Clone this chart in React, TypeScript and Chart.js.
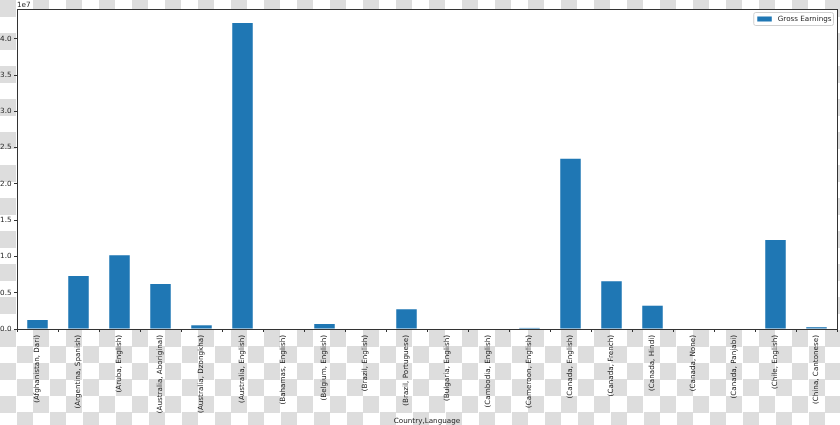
import React, { useEffect, useRef } from "react";
import { Chart, registerables } from "chart.js";

Chart.register(...registerables);

const categories = [
  "(Afghanistan, Dari)",
  "(Argentina, Spanish)",
  "(Aruba, English)",
  "(Australia, Aboriginal)",
  "(Australia, Dzongkha)",
  "(Australia, English)",
  "(Bahamas, English)",
  "(Belgium, English)",
  "(Brazil, English)",
  "(Brazil, Portuguese)",
  "(Bulgaria, English)",
  "(Cambodia, English)",
  "(Cameroon, English)",
  "(Canada, English)",
  "(Canada, French)",
  "(Canada, Hindi)",
  "(Canada, None)",
  "(Canada, Panjabi)",
  "(Chile, English)",
  "(China, Cantonese)",
];

const grossEarnings = [
  1240000, 7310000, 10170000, 6200000, 510000, 42170000, 0, 690000, 0,
  2720000, 0, 0, 150000, 23450000, 6580000, 3210000, 0, 0, 12280000, 250000,
];

const yTicks = [
  0, 5000000, 10000000, 15000000, 20000000, 25000000, 30000000, 35000000,
  40000000,
];

const seriesLabel = "Gross Earnings";
const xTitle = "Country,Language";
const yMax = 44100000;
const offsetText = "1e7";

const BLUE = "#1f77b4";
const INK = "#222";
const FONT = "'DejaVu Sans', sans-serif";
const FS = 7.2;

// white axes face, spines, legend box, offset text and x title
const decorPlugin = {
  id: "decor",
  beforeDraw(chart: any) {
    const { ctx, chartArea: a } = chart;
    ctx.save();
    ctx.fillStyle = "#fff";
    ctx.fillRect(a.left, a.top, a.right - a.left, a.bottom - a.top);
    ctx.restore();
  },
  afterDraw(chart: any) {
    const { ctx, chartArea: a } = chart;
    ctx.save();
    ctx.strokeStyle = "#333";
    ctx.lineWidth = 1;
    ctx.strokeRect(a.left + 0.5, a.top + 0.5, a.right - a.left, a.bottom - a.top);

    // legend
    ctx.font = `${FS}px ${FONT}`;
    const tw = ctx.measureText(seriesLabel).width;
    const bw = tw + 26;
    const bx = a.right - 4 - bw;
    const by = a.top + 3;
    ctx.fillStyle = "rgba(255,255,255,0.8)";
    ctx.strokeStyle = "#d0d0d0";
    ctx.beginPath();
    (ctx as any).roundRect(bx + 0.5, by + 0.5, bw, 13, 2);
    ctx.fill();
    ctx.stroke();
    ctx.fillStyle = BLUE;
    ctx.fillRect(bx + 4, by + 4.5, 14.5, 5);
    ctx.fillStyle = INK;
    ctx.textBaseline = "middle";
    ctx.textAlign = "left";
    ctx.fillText(seriesLabel, bx + 24.5, by + 7.2);

    // offset text
    ctx.textBaseline = "alphabetic";
    ctx.fillText(offsetText, a.left, a.top - 2.5);

    // x title
    ctx.textAlign = "center";
    ctx.fillText(xTitle, (a.left + a.right) / 2, 423);
    ctx.restore();
  },
};

export default function App() {
  const ref = useRef<HTMLCanvasElement>(null);

  useEffect(() => {
    document.body.style.margin = "0";
    Chart.defaults.font.family = FONT;
    Chart.defaults.font.size = FS;
    Chart.defaults.color = INK;

    const chart = new Chart(ref.current!.getContext("2d")!, {
      type: "bar",
      data: {
        labels: categories,
        datasets: [
          {
            label: seriesLabel,
            data: grossEarnings,
            backgroundColor: BLUE,
            barPercentage: 0.5,
            categoryPercentage: 1,
          },
        ],
      },
      options: {
        animation: false,
        responsive: true,
        maintainAspectRatio: false,
        layout: { padding: { top: 9, right: 3, left: 0, bottom: 0 } },
        plugins: {
          legend: { display: false },
          tooltip: { enabled: false },
        },
        scales: {
          x: {
            offset: true,
            border: { display: false },
            grid: {
              display: true,
              drawOnChartArea: false,
              drawTicks: true,
              tickLength: 3,
              color: "#333",
            },
            ticks: {
              autoSkip: false,
              maxRotation: 90,
              minRotation: 90,
              padding: 3,
              color: INK,
              font: { size: FS },
            },
            afterFit: (s: any) => {
              s.height = 96;
            },
          },
          y: {
            min: 0,
            max: yMax,
            border: { display: false },
            grid: {
              display: true,
              drawOnChartArea: false,
              drawTicks: true,
              tickLength: 3,
              color: "#333",
            },
            ticks: {
              padding: 2.5,
              color: INK,
              font: { size: FS },
              callback: (v: any) => (Number(v) / 1e7).toFixed(1),
            },
            afterBuildTicks: (s: any) => {
              s.ticks = yTicks.map((value) => ({ value }));
            },
            afterFit: (s: any) => {
              s.width = 17;
            },
          },
        },
      },
      plugins: [decorPlugin],
    });
    return () => {
      chart.destroy();
    };
  }, []);

  return (
    <div
      style={{
        width: "840px",
        height: "425px",
        position: "relative",
        background:
          "conic-gradient(#fff 0 25%, #dddddd 0 50%, #fff 0 75%, #dddddd 0)",
        backgroundSize: "33px 33px",
      }}
    >
      <canvas ref={ref} />
    </div>
  );
}
